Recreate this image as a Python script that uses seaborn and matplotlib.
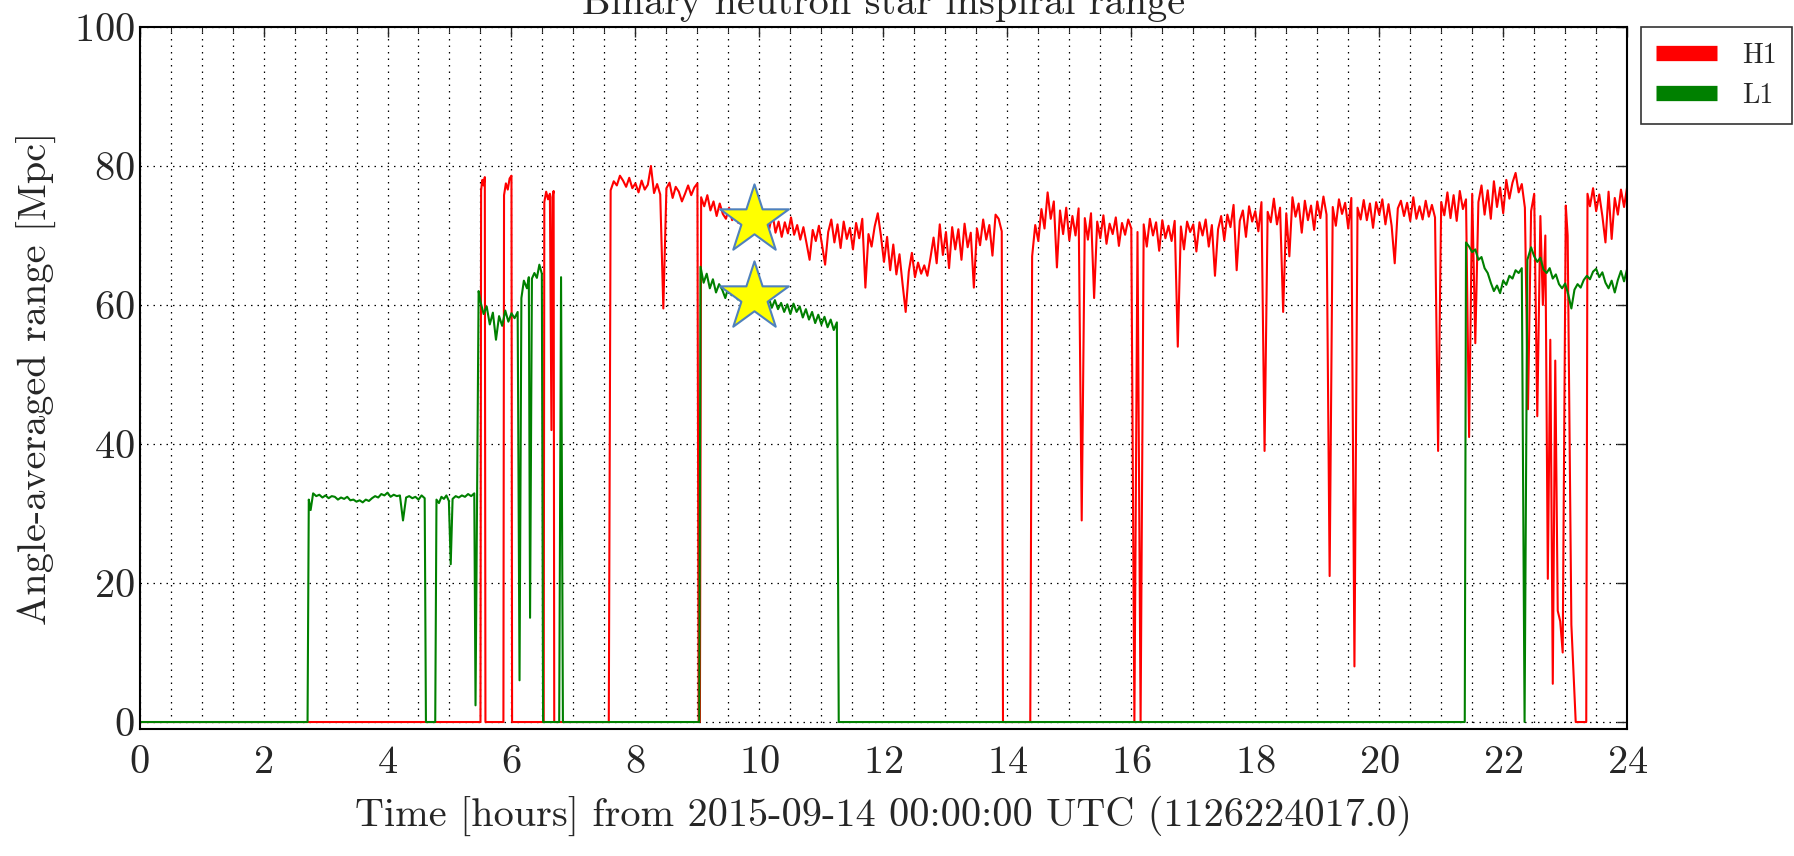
import numpy as np
import pandas as pd
import matplotlib
matplotlib.use("Agg")
import matplotlib.pyplot as plt
from matplotlib.ticker import MultipleLocator
import seaborn as sns

# ---- H1 (Hanford) range, Mpc ----
# explicit samples around the short lock stretches in the morning
h1_early_t = [0.00, 5.50, 5.51, 5.53, 5.55, 5.57, 5.58, 5.87, 5.88, 5.91, 5.94, 5.97,
              6.00, 6.01, 6.52, 6.53, 6.56, 6.59, 6.62, 6.645, 6.66, 6.68, 6.69, 7.57]
h1_early_v = [0, 0, 76.5, 78.0, 77.2, 78.4, 0, 0, 75.8, 77.5, 76.6, 78.2,
              78.6, 0, 0, 74.8, 76.3, 75.2, 76.0, 42.0, 75.5, 76.4, 0, 0]

# lock from 7.60 h, one sample every 0.05 h
h1_lock1 = [76.5, 77.8, 77.2, 78.6, 77.9, 77.0, 78.3, 76.8, 77.5, 76.2, 77.9, 76.6,
            77.3, 80.0, 76.1, 77.4, 75.9, 59.5, 76.8, 77.6, 75.4, 77.0, 76.3, 74.9,
            76.0, 77.2, 75.8, 76.9, 77.5]
h1_glitch_t = [9.02, 9.04]
h1_glitch_v = [0, 0]

# lock from 9.06 h
h1_lock2 = [75.5, 74.2, 75.8, 73.6, 74.9, 72.8, 74.6, 73.1, 72.4, 74.0,
            72.2, 73.5, 71.8, 73.0, 72.1, 73.4, 71.5, 72.6, 71.2, 72.8,
            70.9, 72.5, 71.0, 73.2, 70.4, 72.0, 69.8, 71.9, 70.3, 72.6,
            70.1, 71.5, 69.4, 71.2, 68.9, 66.5, 70.8, 69.2, 71.4, 68.7,
            65.8, 70.5, 72.3, 69.0, 71.6, 68.2, 72.0, 69.5, 71.1, 68.0,
            71.8, 69.6, 72.4, 62.5, 70.2, 68.4, 71.3, 73.2, 70.0, 66.2,
            69.8, 65.0, 68.7, 64.4, 67.3, 63.0, 59.0, 64.8, 67.5, 64.0,
            66.1, 64.5, 65.7, 64.2, 66.8, 69.7, 66.0, 71.6, 67.2, 70.5,
            65.3, 71.2, 68.0, 70.9, 66.5, 71.7, 68.3, 70.4, 62.5, 71.0,
            68.6, 72.3, 69.4, 71.5, 67.1, 73.0, 72.4, 70.6]
h1_gap_t = [13.93, 14.37]
h1_gap_v = [0, 0]

# lock from 14.40 h
h1_lock3 = [67.0, 71.5, 69.2, 73.8, 71.0, 76.2, 72.4, 74.9, 65.4, 73.6,
            70.2, 74.0, 69.3, 72.8, 70.0, 73.9, 29.0, 72.5, 69.4, 73.2,
            61.0, 72.0, 69.6, 72.9, 68.8, 71.7, 70.2, 72.6, 68.5, 71.8,
            70.1, 72.3, 71.0, 0.0, 70.5, 0.0, 71.6, 68.4, 72.4, 70.0,
            71.9, 67.8, 72.2, 69.6, 71.4, 69.2, 72.1, 54.0, 71.3, 68.0,
            72.0, 70.5, 71.6, 67.7, 71.9, 70.0, 72.3, 68.4, 71.5, 64.2,
            70.9, 72.8, 69.3, 73.0, 71.2, 74.4, 65.0, 72.1, 73.6, 69.8,
            74.2, 72.0, 73.5, 70.6, 74.8, 39.0, 73.4, 71.9, 75.3, 71.6,
            74.0, 59.0, 73.2, 67.0, 75.5, 72.7, 74.6, 70.4, 75.0, 72.2,
            74.3, 70.8, 74.9, 72.5, 75.6, 73.0, 21.0, 74.1, 71.4, 75.2,
            73.1, 74.7, 71.0, 75.4, 8.0, 74.0, 72.3, 75.1, 72.2, 74.6,
            71.1, 74.8, 73.0, 75.2, 71.6, 74.5, 71.4, 66.0, 73.9, 75.0,
            72.8, 74.7, 72.1, 75.5, 72.4, 74.2, 72.3, 75.0, 72.7, 74.4,
            72.6, 39.0, 74.8, 72.9, 76.2, 72.5, 75.8, 72.1, 76.4, 73.8,
            75.2]

# from 21.45 h
h1_lock4 = [41.0, 76.0, 54.5, 74.8, 77.2, 73.0, 76.5, 72.4, 77.8, 74.1,
            76.9, 73.2, 78.0, 75.3, 77.6, 79.0, 76.2, 77.4, 74.0, 45.0,
            73.5, 76.0, 44.0, 72.8]
h1_drop_t = [22.64, 22.68, 22.72, 22.76, 22.80, 22.84, 22.88, 22.92, 22.96,
             23.01, 23.04, 23.10, 23.17, 23.34, 23.36]
h1_drop_v = [60.0, 70.0, 20.6, 55.0, 5.5, 52.0, 16.0, 14.5, 10.0,
             74.3, 70.0, 14.0, 0.0, 0.0, 76.0]
h1_lock5 = [74.2, 76.8, 73.5, 75.9, 72.8, 69.0, 76.3, 69.5, 75.4, 73.0,
            76.6, 74.1, 77.0]

# ---- L1 (Livingston) range, Mpc ----
l1_early_t = [0.00, 2.71, 2.73, 2.76]
l1_early_v = [0, 0, 32.0, 30.5]
l1_lock1 = [32.9, 32.5, 32.7, 32.3, 32.6, 32.2, 32.5, 32.4, 32.0, 32.3,
            32.1, 32.4, 31.9, 32.0, 31.7, 31.9, 31.6, 32.0, 31.8, 32.2,
            32.5, 32.3, 32.8, 32.6, 33.0, 32.4, 32.7, 32.5, 32.6, 29.0,
            32.3, 32.5, 32.2, 32.4, 32.0, 32.6, 32.2]
l1_mid_t = [4.62, 4.77, 4.79, 4.83, 4.87, 4.91, 4.95, 4.99, 5.02, 5.05, 5.10,
            5.15, 5.20, 5.25, 5.30, 5.35, 5.40, 5.42, 5.47]
l1_mid_v = [0, 0, 32.0, 31.5, 32.4, 32.1, 32.6, 31.8, 22.7, 32.1, 32.5,
            32.3, 32.6, 32.4, 32.8, 32.5, 32.9, 2.4, 62.0]
l1_lock2 = [60.5, 58.7, 59.8, 57.2, 58.9, 55.0, 58.4, 57.0, 59.2, 57.6,
            58.8, 58.1, 59.0]
l1_flaky_t = [6.13, 6.16, 6.20, 6.25, 6.28, 6.30, 6.33, 6.37, 6.41, 6.45,
              6.49, 6.51, 6.77, 6.80, 6.83, 9.03, 9.05]
l1_flaky_v = [6.0, 61.0, 63.5, 62.4, 64.0, 15.0, 63.8, 64.6, 63.9, 65.8,
              64.5, 0, 0, 64.0, 0, 0, 65.5]
l1_lock3 = [63.2, 64.5, 62.4, 63.7, 61.8, 63.0, 62.2, 61.0, 62.6, 61.4,
            62.5, 60.8, 62.0, 61.2, 60.4, 61.6, 60.5, 61.8, 60.2, 61.3,
            60.0, 61.1, 59.6, 60.7, 59.4, 60.3, 59.0, 60.1, 58.7, 60.2,
            59.0, 59.8, 58.2, 59.4, 57.9, 59.0, 57.4, 58.6, 57.2, 58.3,
            56.8, 57.9, 56.4, 57.5]
l1_gap_t = [11.28, 21.38, 21.40]
l1_gap_v = [0, 0, 69.0]
l1_lock4 = [68.4, 67.6, 68.0, 66.5, 66.9, 65.3, 64.6, 63.2, 62.0, 62.8,
            61.7, 63.5, 62.9, 64.2, 63.8, 65.0, 64.6, 65.3]
l1_blip_t = [22.345, 22.39]
l1_blip_v = [0, 66.5]
l1_lock5 = [68.3, 67.0, 66.2, 66.8, 65.1, 64.6, 65.3, 63.8, 64.4, 63.0,
            62.4, 63.1, 61.5, 59.5, 62.2, 63.0, 62.5, 63.6, 64.2, 63.7,
            64.8, 65.2, 64.0, 64.7, 63.2, 62.4, 63.5, 61.8, 63.6, 64.9,
            63.4, 65.2]

# the two stars pasted on the figure
star_hours = [9.92, 9.92]
star_mpc = [72.2, 61.2]

STEP = 0.05


def regular(start, values):
    """Samples taken every STEP hours from start"""
    return start + STEP * np.arange(len(values)), list(values)


def build(parts, name):
    hours = np.concatenate([np.asarray(p[0], dtype=float) for p in parts])
    mpc = np.concatenate([np.asarray(p[1], dtype=float) for p in parts])
    return pd.DataFrame({'hours': hours, 'mpc': mpc, 'ifo': name})


h1 = build([(h1_early_t, h1_early_v), regular(7.60, h1_lock1),
            (h1_glitch_t, h1_glitch_v), regular(9.06, h1_lock2),
            (h1_gap_t, h1_gap_v), regular(14.40, h1_lock3),
            regular(21.45, h1_lock4), (h1_drop_t, h1_drop_v),
            regular(23.40, h1_lock5)], 'H1')
l1 = build([(l1_early_t, l1_early_v), regular(2.80, l1_lock1),
            (l1_mid_t, l1_mid_v), regular(5.50, l1_lock2),
            (l1_flaky_t, l1_flaky_v), regular(9.10, l1_lock3),
            (l1_gap_t, l1_gap_v), regular(21.45, l1_lock4),
            (l1_blip_t, l1_blip_v), regular(22.45, l1_lock5)], 'L1')
df = pd.concat([h1, l1], ignore_index=True)

sns.set_style("white")
plt.rcParams['font.family'] = ['cmr10', 'DejaVu Serif']
plt.rcParams['axes.formatter.use_mathtext'] = True
plt.rcParams['mathtext.fontset'] = 'cm'

fig = plt.figure(figsize=(17.94, 8.56), dpi=100)
ax = fig.add_axes([0.0778, 0.1484, 0.8292, 0.8201])

sns.lineplot(data=df, x='hours', y='mpc', hue='ifo', palette={'H1': '#ff0000', 'L1': '#008000'},
             estimator=None, sort=False, linewidth=1.5, legend=False, ax=ax)

sns.scatterplot(x=star_hours, y=star_mpc, marker='*', s=52 ** 2, color='#ffff00',
                edgecolor='#4f81bd', linewidth=1.5, zorder=5, ax=ax)

ax.set_xlim(0, 24)
ax.set_ylim(-1, 100)
ax.xaxis.set_major_locator(MultipleLocator(2))
ax.xaxis.set_minor_locator(MultipleLocator(0.5))
ax.yaxis.set_major_locator(MultipleLocator(20))
grid_style = dict(color='k', linestyle=(0, (1.2, 4)), linewidth=0.9)
ax.grid(which='major', axis='both', **grid_style)
ax.grid(which='minor', axis='x', **grid_style)
ax.tick_params(which='both', direction='in', top=True, right=True, labelsize=29)
ax.tick_params(which='major', length=7, width=1)
ax.tick_params(which='minor', length=3.5, width=0.8)
ax.tick_params(axis='x', pad=12)
for s in ax.spines.values():
    s.set_linewidth(1.5)
    s.set_color('k')

ax.set_xlabel('Time [hours] from 2015-09-14 00:00:00 UTC (1126224017.0)', fontsize=29, labelpad=10)
ax.set_ylabel('Angle-averaged range [Mpc]', fontsize=29, labelpad=12)
ax.set_title('Binary neutron star inspiral range', fontsize=29, pad=9)

h1_line, l1_line = ax.get_lines()[:2]
leg = ax.legend([h1_line, l1_line], ['H1', 'L1'], loc='upper left', bbox_to_anchor=(1.009, 1.0),
                borderaxespad=0, fontsize=20, frameon=True, fancybox=False, edgecolor='k',
                handlelength=2.2, handletextpad=0.9, labelspacing=0.5, borderpad=0.55)
leg.get_frame().set_linewidth(1.2)
for ln in leg.get_lines():
    ln.set_linewidth(11)
    ln.set_solid_capstyle('butt')

fig.savefig('out.png', dpi=100)
